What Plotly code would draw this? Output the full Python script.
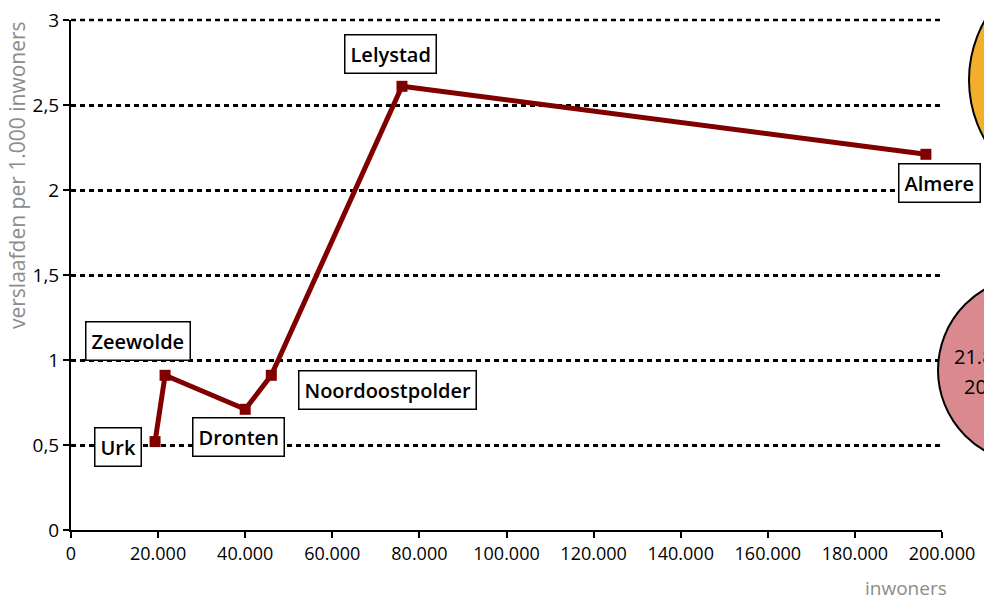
import plotly.graph_objects as go

# Data
gemeenten = ["Urk", "Zeewolde", "Dronten", "Noordoostpolder", "Lelystad", "Almere"]
inwoners = [19300, 21600, 40000, 46000, 76000, 196300]
verslaafden_per_1000 = [0.52, 0.91, 0.71, 0.91, 2.61, 2.21]

# label offsets (pixels) relative to each point
label_dx = [-37, -27, -7, 116, -11, 14]
label_dy = [-5, 34, -28, -15, 32, -29]

x_ticks = [0, 20000, 40000, 60000, 80000, 100000, 120000, 140000, 160000, 180000, 200000]
y_ticks = [0, 0.5, 1, 1.5, 2, 2.5, 3]

FONT = "Open Sans"
MAROON = "#800000"
GRAY = "#8c8c8c"

fig = go.Figure()

# top gridline at the upper range edge (plotly omits the grid line there)
fig.add_shape(type="line", xref="paper", yref="paper", x0=0, x1=1, y0=1, y1=1,
              line=dict(color="black", width=2.5, dash="5px,4px"), layer="below")

fig.add_trace(go.Scatter(
    x=inwoners, y=verslaafden_per_1000, mode="lines+markers",
    line=dict(color=MAROON, width=5),
    marker=dict(symbol="square", size=11, color=MAROON),
    cliponaxis=False, showlegend=False, hoverinfo="skip"))

for name, xv, yv, dx, dy in zip(gemeenten, inwoners, verslaafden_per_1000, label_dx, label_dy):
    fig.add_annotation(
        x=xv, y=yv, xref="x", yref="y", text=name, showarrow=False,
        xshift=dx, yshift=dy, xanchor="center", yanchor="middle",
        font=dict(family=FONT, size=20, color="black", weight=600),
        bgcolor="white", bordercolor="black", borderwidth=1.5, borderpad=5)

# clipped bubbles at the right edge
fig.add_shape(type="circle", xref="paper", yref="paper",
              xsizemode="pixel", ysizemode="pixel",
              xanchor=1.0, yanchor=1.0,
              x0=27, x1=267, y0=-180, y1=60,
              fillcolor="#F2AF2C", line=dict(color="black", width=2), layer="above")
fig.add_shape(type="circle", xref="paper", yref="paper",
              xsizemode="pixel", ysizemode="pixel",
              xanchor=1.0, yanchor=0.0,
              x0=-4, x1=182, y0=67, y1=253,
              fillcolor="#DA8A8F", line=dict(color="black", width=2), layer="above")
fig.add_annotation(xref="paper", yref="paper", x=1.0, y=0.0, xshift=10, yshift=174,
                   text="21.840", showarrow=False, xanchor="left", yanchor="middle",
                   font=dict(family=FONT, size=20, color="black"))
fig.add_annotation(xref="paper", yref="paper", x=1.0, y=0.0, xshift=20, yshift=144,
                   text="2011", showarrow=False, xanchor="left", yanchor="middle",
                   font=dict(family=FONT, size=20, color="black"))

# axis titles
fig.add_annotation(xref="paper", yref="paper", x=1.0, y=0.0, xshift=7, yshift=-58,
                   text="inwoners", showarrow=False, xanchor="right", yanchor="middle",
                   font=dict(family=FONT, size=19, color=GRAY))
fig.add_annotation(xref="paper", yref="paper", x=0.0, y=0.0, xshift=-54, yshift=355,
                   text="verslaafden per 1.000 inwoners", showarrow=False, textangle=-90,
                   xanchor="center", yanchor="middle",
                   font=dict(family=FONT, size=21, color=GRAY))

fig.update_layout(
    width=984, height=601,
    margin=dict(l=71, r=42, t=20, b=71, autoexpand=False),
    paper_bgcolor="white", plot_bgcolor="white",
    separators=",.",
    font=dict(family=FONT, size=19, color="black"),
    showlegend=False,
)
fig.update_xaxes(
    range=[0, 200000], tickvals=x_ticks, tickformat=",.0f",
    showgrid=False, zeroline=False, automargin=False,
    showline=True, linecolor="black", linewidth=2,
    ticks="outside", ticklen=6, tickwidth=2, tickcolor="black",
    tickfont=dict(family=FONT, size=18, color="black"))
fig.update_yaxes(
    range=[0, 3], tickvals=y_ticks, automargin=False,
    showgrid=True, gridcolor="black", gridwidth=2.5, griddash="5px,4px",
    zeroline=False,
    showline=True, linecolor="black", linewidth=2,
    ticks="outside", ticklen=6, tickwidth=2, tickcolor="black",
    tickfont=dict(family=FONT, size=19, color="black"))

fig.write_html("out.html", config={"displayModeBar": False},
               post_script="document.body.style.margin='0';document.body.style.overflow='hidden';")
